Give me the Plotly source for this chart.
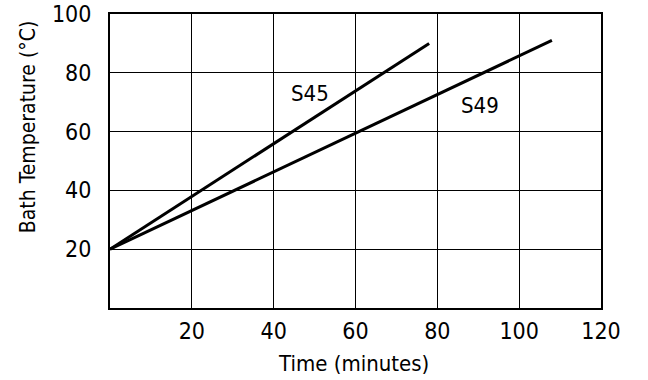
import plotly.graph_objects as go

# endpoints (time in minutes, bath temperature in °C)
s45_time = [0, 78]
s45_temp = [20, 90]
s49_time = [0, 108]
s49_temp = [20, 91]

x_ticks = [20, 40, 60, 80, 100, 120]
y_ticks = [20, 40, 60, 80, 100]

FONT = "Liberation Sans Narrow, DejaVu Sans Condensed, Arial Narrow, sans-serif"

fig = go.Figure()
fig.add_trace(go.Scatter(x=s45_time, y=s45_temp, mode="lines",
                         line=dict(color="black", width=3), name="S45"))
fig.add_trace(go.Scatter(x=s49_time, y=s49_temp, mode="lines",
                         line=dict(color="black", width=3), name="S49"))

# curve labels
fig.add_annotation(x=49, y=73, text="S45", showarrow=False,
                   font=dict(size=22, color="black", family=FONT))
fig.add_annotation(x=90.5, y=69, text="S49", showarrow=False,
                   font=dict(size=22, color="black", family=FONT))

# axis titles
fig.add_annotation(xref="paper", yref="paper", x=0.496, y=-0.19,
                   xanchor="center", yanchor="middle",
                   text="Time (minutes)", showarrow=False,
                   font=dict(size=22, color="black", family=FONT))
fig.add_annotation(xref="paper", yref="paper", x=-0.167, y=0.615,
                   xanchor="center", yanchor="middle",
                   text="Bath Temperature (°C)", showarrow=False, textangle=-90,
                   font=dict(size=21, color="black", family=FONT))

fig.update_xaxes(range=[0, 120], tickvals=x_ticks, showgrid=True,
                 gridcolor="black", gridwidth=1.3, showline=True, mirror=True,
                 linecolor="black", linewidth=2, zeroline=False,
                 ticks="", ticklabelstandoff=1, automargin=False,
                 ticklabeloverflow="allow",
                 tickfont=dict(size=23, color="black", family=FONT))
fig.update_yaxes(range=[0, 100], tickvals=y_ticks, showgrid=True,
                 gridcolor="black", gridwidth=1.3, showline=True, mirror=True,
                 linecolor="black", linewidth=2, zeroline=False,
                 ticks="", ticklabelstandoff=12, automargin=False,
                 ticklabeloverflow="allow",
                 tickfont=dict(size=23, color="black", family=FONT))

fig.update_layout(
    width=648, height=380,
    margin=dict(l=110, r=47, t=14, b=72),
    plot_bgcolor="white", paper_bgcolor="white",
    showlegend=False,
)

# drop the page's default body margin so the figure fills the window
fig.write_html("out.html", config={"displayModeBar": False},
               post_script="document.body.style.margin = '0';")
